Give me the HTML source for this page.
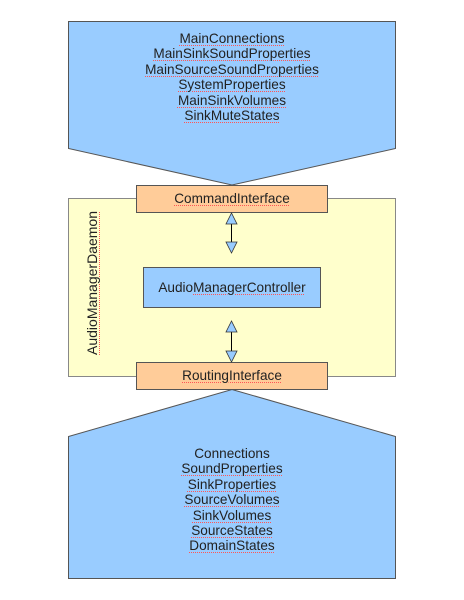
<!DOCTYPE html>
<html><head><meta charset="utf-8"><style>
html,body{margin:0;padding:0;background:#fff;}
#c{position:relative;width:464px;height:600px;overflow:hidden;font-family:"Liberation Sans",sans-serif;color:#222;}
.t{position:absolute;left:0;width:464px;text-align:center;font-size:13.6px;line-height:15.4px;}
.u{text-decoration:underline dotted #f55;text-decoration-thickness:1px;text-underline-offset:2px;}
svg{position:absolute;left:0;top:0;}
</style></head><body><div id="c">
<svg width="464" height="600">
<polygon points="68.5,21.5 395.5,21.5 395.5,148.5 232,185 68.5,148.5" fill="#99ccff" stroke="#555" stroke-width="1"/>
<rect x="68.5" y="198.5" width="327" height="178" fill="#ffffcc" stroke="#888"/>
<rect x="136.5" y="185.5" width="191" height="27" fill="#ffcc99" stroke="#555"/>
<rect x="143.5" y="267.5" width="177" height="40" fill="#99ccff" stroke="#555"/>
<rect x="136.5" y="362.5" width="191" height="27" fill="#ffcc99" stroke="#555"/>
<polygon points="232,389.5 395.5,436.5 395.5,578.5 68.5,578.5 68.5,436.5" fill="#99ccff" stroke="#555"/>
<line x1="231.5" y1="224" x2="231.5" y2="242" stroke="#000"/>
<polygon points="231.5,213 226,224 237,224" fill="#99ccff" stroke="#333" stroke-width=".8"/>
<polygon points="231.5,253 226,242 237,242" fill="#99ccff" stroke="#333" stroke-width=".8"/>
<line x1="231.5" y1="332" x2="231.5" y2="351" stroke="#000"/>
<polygon points="231.5,321 226,332 237,332" fill="#99ccff" stroke="#333" stroke-width=".8"/>
<polygon points="231.5,362 226,351 237,351" fill="#99ccff" stroke="#333" stroke-width=".8"/>
</svg>
<div class="t" style="top:31px"><span class="u">MainConnections</span><br><span class="u">MainSinkSoundProperties</span><br><span class="u">MainSourceSoundProperties</span><br><span class="u">SystemProperties</span><br><span class="u">MainSinkVolumes</span><br><span class="u">SinkMuteStates</span></div>
<div class="t" style="top:191px"><span class="u">CommandInterface</span></div>
<div class="t" style="top:280px">Audio<span class="u">ManagerController</span></div>
<div class="t" style="top:368px"><span class="u">RoutingInterface</span></div>
<div class="t" style="top:446px">Connections<br><span class="u">SoundProperties</span><br><span class="u">SinkProperties</span><br><span class="u">SourceVolumes</span><br><span class="u">SinkVolumes</span><br><span class="u">SourceStates</span><br><span class="u">DomainStates</span></div>
<div style="position:absolute;left:92px;top:283px;transform:translate(-50%,-50%) rotate(-90deg);font-size:14px;white-space:nowrap;"><span class="u">AudioManagerDaemon</span></div>
</div></body></html>
